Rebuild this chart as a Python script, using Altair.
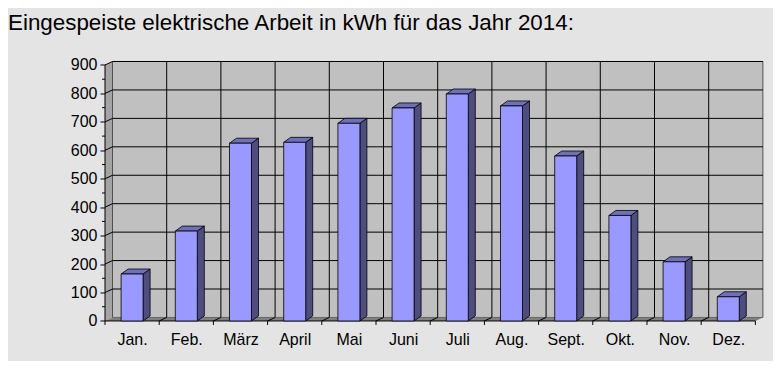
import altair as alt
import pandas as pd

# ---- data ----
months = ["Jan.", "Feb.", "März", "April", "Mai", "Juni", "Juli", "Aug.", "Sept.", "Okt.", "Nov.", "Dez."]
values = [165, 316, 625, 628, 695, 749, 798, 756, 580, 371, 208, 85]
y_ticks = [0, 100, 200, 300, 400, 500, 600, 700, 800, 900]
y_minor = [50, 150, 250, 350, 450, 550, 650, 750, 850]
title_text = "Eingespeiste elektrische Arbeit in kWh für das Jahr 2014:"

# ---- geometry (pixels -> data units) ----
SLOT_PX = 54.2
PX_PER_UNIT_Y = 0.2844
DXW = 7.5 / SLOT_PX          # wall depth (x)
DYW = 3.5 / PX_PER_UNIT_Y    # wall depth (y)
DXB = 7.0 / SLOT_PX          # bar depth (x)
DYB = 5.0 / PX_PER_UNIT_Y    # bar depth (y)
BW = 22.0 / SLOT_PX          # bar width
N = len(months)
YMAX = 900
XDOM = [0, N + DXW]
YDOM = [0, YMAX + DYW]
W = (N + DXW) * SLOT_PX
H = (YMAX + DYW) * PX_PER_UNIT_Y

FONT = "Liberation Sans"
label_expr = "[" + ",".join("'" + m + "'" for m in months) + "][floor(datum.value)]"

xs = alt.Scale(domain=XDOM, nice=False, zero=False)
ys = alt.Scale(domain=YDOM, nice=False, zero=False)
XAXIS = alt.Axis(values=[k + 0.5 for k in range(N)], labelExpr=label_expr, tickSize=0,
                 domain=False, grid=False, labelFontSize=16, labelFont=FONT, labelColor="black",
                 labelPadding=11, labelFlush=False, labelOverlap=False, title=None)
YAXIS = alt.Axis(values=y_ticks, tickSize=5, tickColor="black", domain=False, grid=False,
                 labelFontSize=16, labelFont=FONT, labelColor="black", labelPadding=3,
                 labelOverlap=False, labelFlush=False, title=None)

def X(f):
    return alt.X(f, type="quantitative", scale=xs, axis=XAXIS)

def Y(f):
    return alt.Y(f, type="quantitative", scale=ys, axis=YAXIS, stack=None)

# bars
bars = pd.DataFrame({
    "m": months, "v": values,
    "xl": [k + 0.5 - BW / 2 for k in range(N)],
    "xr": [k + 0.5 + BW / 2 for k in range(N)],
    "y0": [0] * N,
})
side_rows, top_rows = [], []
for k, (m, v) in enumerate(zip(months, values)):
    xl = k + 0.5 - BW / 2
    xr = k + 0.5 + BW / 2
    side_rows += [dict(m=m, x=xr, y=0, y2=v), dict(m=m, x=xr + DXB, y=DYB, y2=v + DYB)]
    top_rows += [dict(m=m, x=xl, y=v, y2=v), dict(m=m, x=xl + DXB, y=v, y2=v + DYB),
                 dict(m=m, x=xr, y=v, y2=v + DYB), dict(m=m, x=xr + DXB, y=v + DYB, y2=v + DYB)]
side = pd.DataFrame(side_rows)
top = pd.DataFrame(top_rows)

# walls
left_wall = pd.DataFrame([dict(x=0, y=0, y2=YMAX), dict(x=DXW, y=DYW, y2=YMAX + DYW)])
back_wall = pd.DataFrame([dict(x=DXW, x2=N + DXW, y=DYW, y2=YMAX + DYW)])
floor = pd.DataFrame([dict(x=0, y=0, y2=0), dict(x=DXW, y=0, y2=DYW),
                      dict(x=N, y=0, y2=DYW), dict(x=N + DXW, y=DYW, y2=DYW)])
hgrid = pd.DataFrame({"y": [t + DYW for t in y_ticks[1:]], "x": DXW, "x2": N + DXW})
vgrid = pd.DataFrame({"x": [k + DXW for k in range(1, N)], "y": DYW, "y2": YMAX + DYW})
lgrid = pd.DataFrame({"x": 0.0, "x2": DXW, "y": y_ticks[1:], "y2": [t + DYW for t in y_ticks[1:]]})
fgrid = pd.DataFrame({"x": list(range(1, N)), "x2": [k + DXW for k in range(1, N)], "y": 0.0, "y2": DYW})
minor = pd.DataFrame({"y": y_minor, "x": -3.0 / SLOT_PX, "x2": 0.0})
xticks = pd.DataFrame({"x": list(range(0, N + 1)), "y": -4.0 / PX_PER_UNIT_Y, "y2": 0.0})
front_edge = pd.DataFrame([dict(x=0, x2=N, y=0, y2=0)])
yaxis_line = pd.DataFrame([dict(x=0, y=0, y2=YMAX)])

l_left = alt.Chart(left_wall).mark_area(color="#a4a4a4").encode(x=X("x"), y=Y("y"), y2="y2")
l_back = alt.Chart(back_wall).mark_rect(fill="#c0c0c0", stroke="#505050", strokeWidth=1).encode(
    x=X("x"), x2="x2", y=Y("y"), y2="y2")
l_hgrid = alt.Chart(hgrid).mark_rule(color="black", strokeWidth=1).encode(x=X("x"), x2="x2", y=Y("y"))
l_vgrid = alt.Chart(vgrid).mark_rule(color="black", strokeWidth=1).encode(x=X("x"), y=Y("y"), y2="y2")
l_lgrid = alt.Chart(lgrid).mark_rule(color="black", strokeWidth=1).encode(x=X("x"), x2="x2", y=Y("y"), y2="y2")
l_floor = alt.Chart(floor).mark_area(color="#808080").encode(x=X("x"), y=Y("y"), y2="y2")
l_fgrid = alt.Chart(fgrid).mark_rule(color="black", strokeWidth=1).encode(x=X("x"), x2="x2", y=Y("y"), y2="y2")
l_front = alt.Chart(front_edge).mark_rule(color="black", strokeWidth=1).encode(x=X("x"), x2="x2", y=Y("y"))
l_yline = alt.Chart(yaxis_line).mark_rule(color="black", strokeWidth=1).encode(x=X("x"), y=Y("y"), y2="y2")
l_minor = alt.Chart(minor).mark_rule(color="black", strokeWidth=1).encode(x=X("x"), x2="x2", y=Y("y"))
l_xticks = alt.Chart(xticks).mark_rule(color="black", strokeWidth=1).encode(x=X("x"), y=Y("y"), y2="y2")

l_side = alt.Chart(side).mark_area(fill="#4d4d80", stroke="black", strokeWidth=0.8).encode(
    x=X("x"), y=Y("y"), y2="y2", detail="m:N")
l_top = alt.Chart(top).mark_area(fill="#6f6fba", stroke="black", strokeWidth=0.8).encode(
    x=X("x"), y=Y("y"), y2="y2", detail="m:N")
l_bars = alt.Chart(bars).mark_rect(fill="#9999ff", stroke="black", strokeWidth=0.8).encode(
    x=X("xl"), x2="xr", y=Y("y0"), y2="v")

chart = alt.layer(
    l_left, l_back, l_hgrid, l_vgrid, l_lgrid, l_floor, l_fgrid, l_front, l_yline, l_minor, l_xticks,
    l_side, l_top, l_bars,
).properties(
    width=W, height=H,
    title=alt.TitleParams(text=title_text, anchor="start", frame="group", fontSize=22.4, font=FONT,
                          fontWeight="normal", color="black", dx=-97, offset=22.5),
    padding={"left": 97, "top": 53.5, "right": 10, "bottom": 40},
    autosize=alt.AutoSizeParams(type="none"),
    background="#e4e4e4",
).configure_view(stroke=None)

chart.save("out.html", embed_options={"renderer": "svg", "actions": False})
